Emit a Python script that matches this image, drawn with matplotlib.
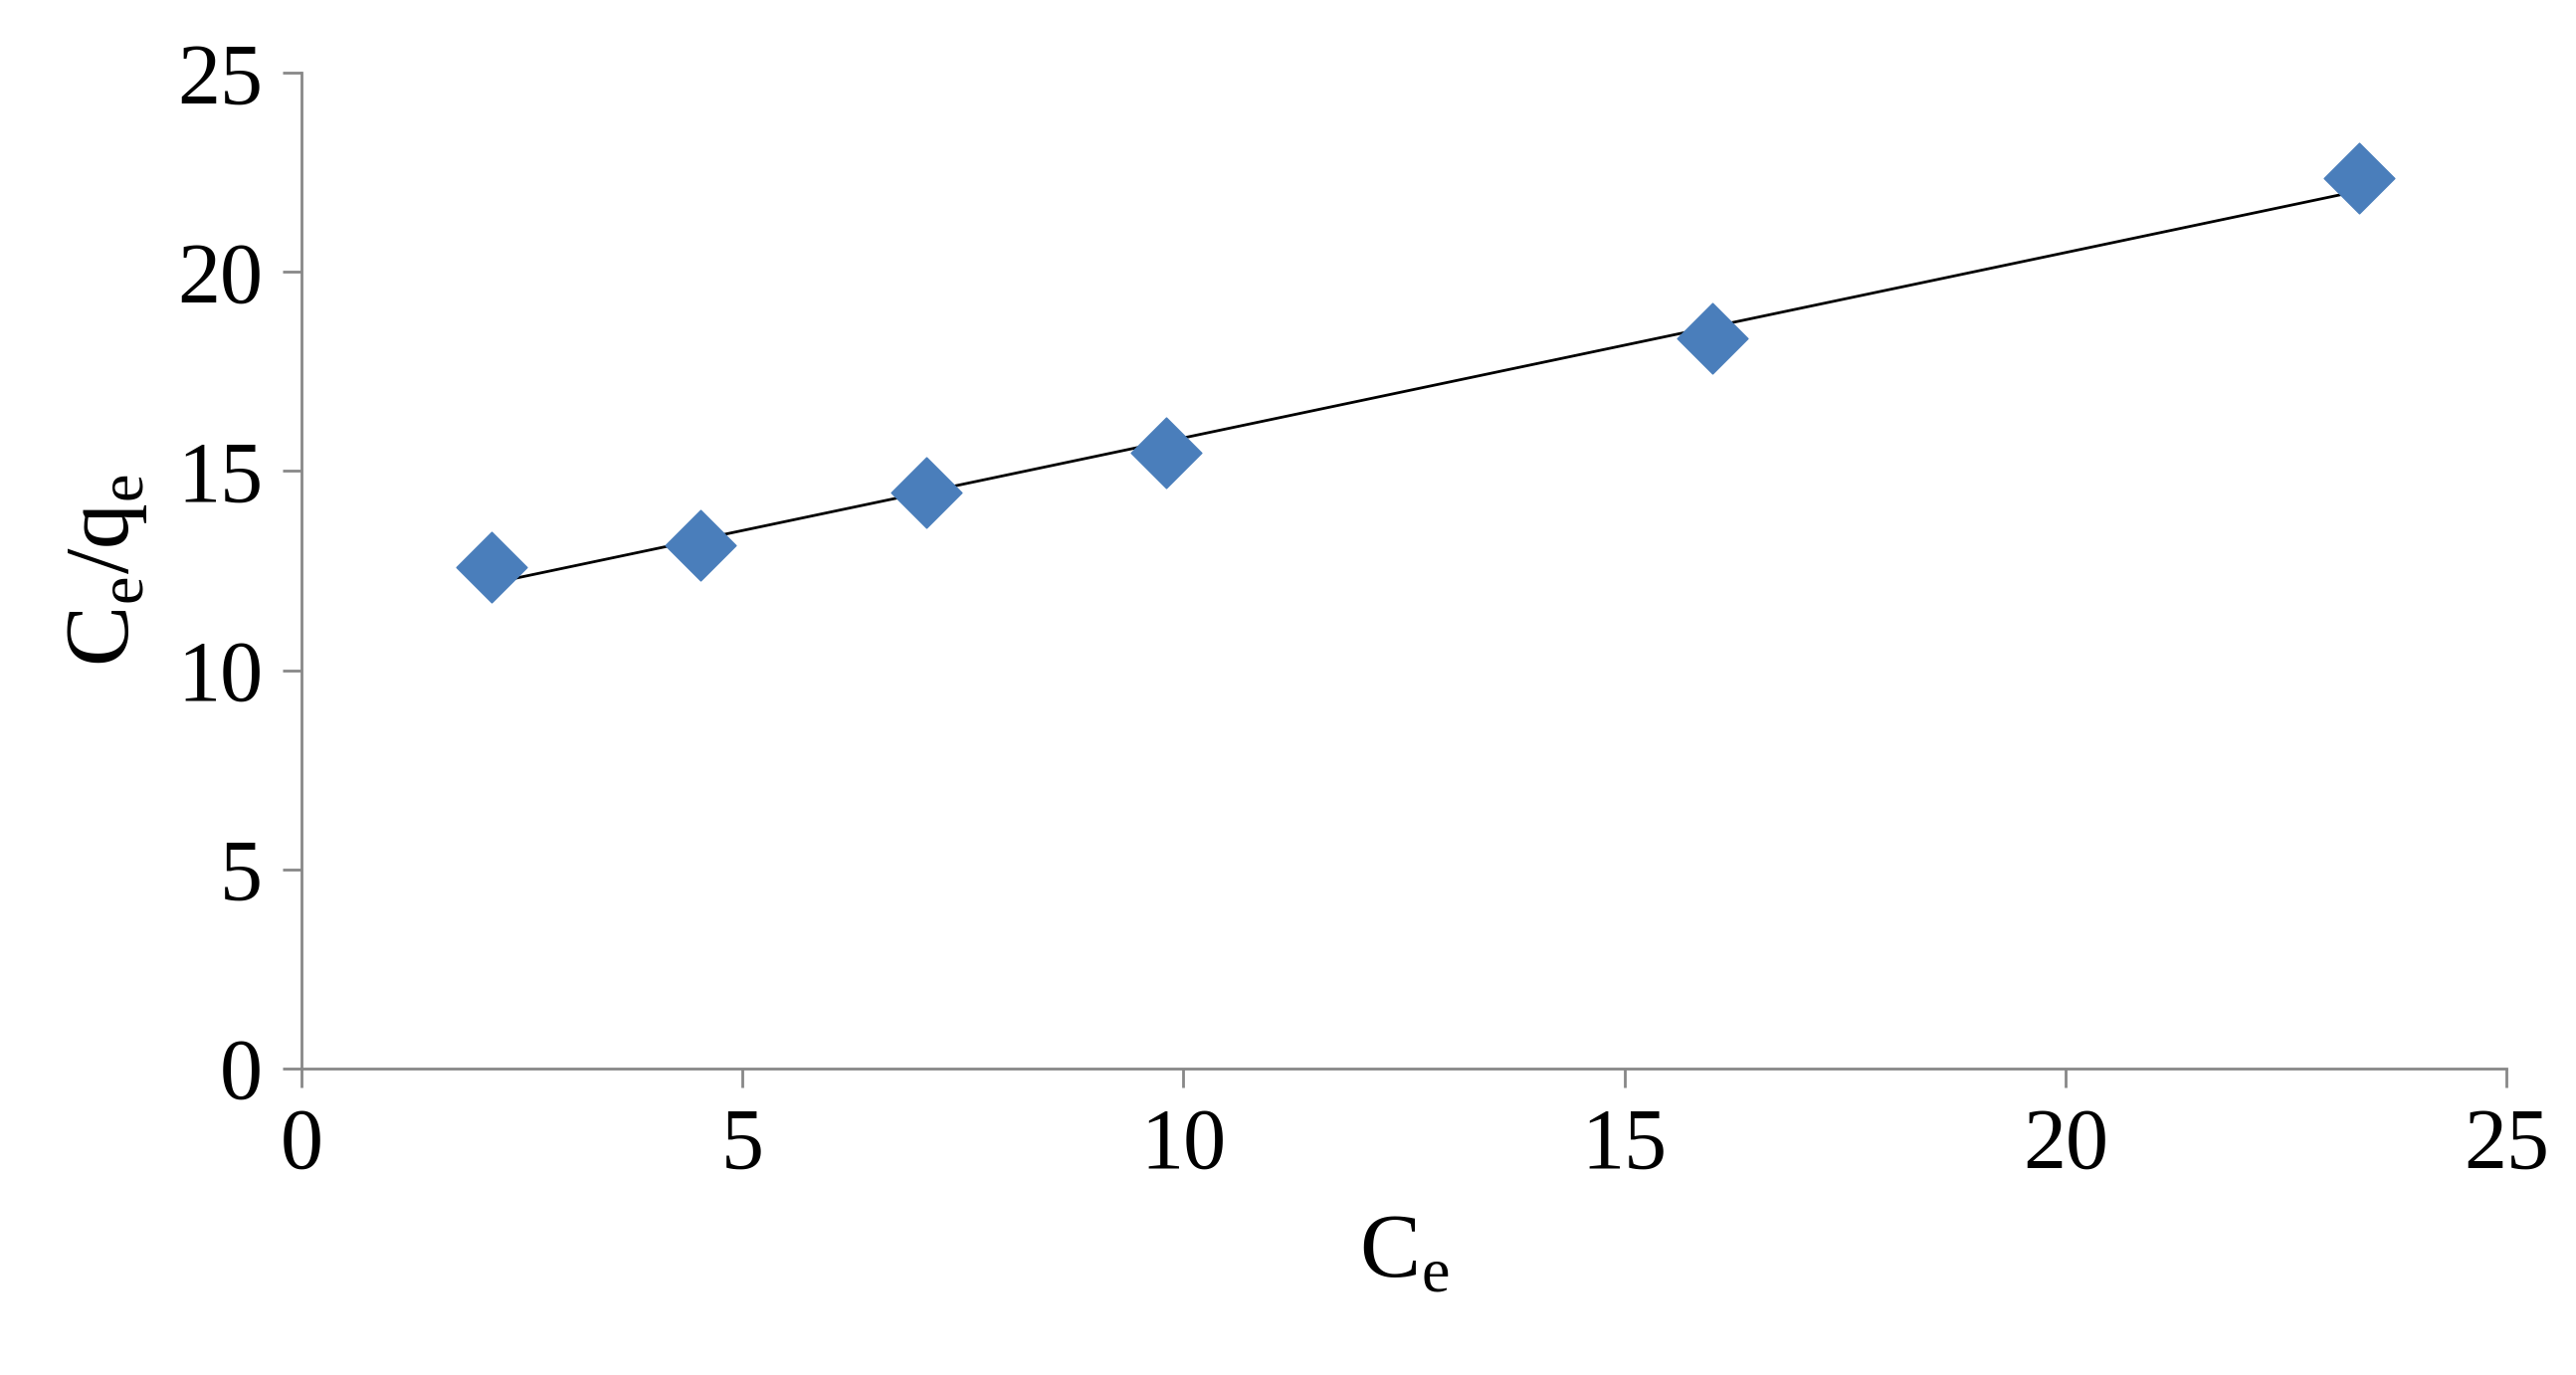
import matplotlib
matplotlib.use("Agg")
import matplotlib.pyplot as plt
import numpy as np

ce = [2.16, 4.52, 7.09, 9.80, 16.0, 23.33]
ce_qe = [12.6, 13.14, 14.47, 15.46, 18.33, 22.35]
xticks = [0, 5, 10, 15, 20, 25]
yticks = [0, 5, 10, 15, 20, 25]

plt.rcParams['font.family'] = ['Liberation Serif', 'DejaVu Serif']
fig = plt.figure(figsize=(25.89, 13.82), dpi=100)
ax = fig.add_axes([0.117, 0.223, 0.856, 0.724])

m, b = np.polyfit(ce, ce_qe, 1)
xs = np.array([min(ce), max(ce)])
ax.plot(xs, m * xs + b, color='black', lw=2, zorder=2)
ax.scatter(ce, ce_qe, marker='D', s=1300, color='#4a7ebb', zorder=3)

ax.set_xlim(0, 25)
ax.set_ylim(0, 25)
ax.set_xticks(xticks)
ax.set_yticks(yticks)
for s in ['top', 'right']:
    ax.spines[s].set_visible(False)
for s in ['left', 'bottom']:
    ax.spines[s].set_color('#888888')
    ax.spines[s].set_linewidth(2)
ax.tick_params(direction='out', length=14, width=2, color='#888888', labelsize=62, pad=14)
ax.set_xlabel('C$_\\mathregular{e}$', fontsize=66, labelpad=20)
ax.set_ylabel('C$_\\mathregular{e}$/q$_\\mathregular{e}$', fontsize=66, labelpad=20)
fig.savefig('out.png', dpi=100)
